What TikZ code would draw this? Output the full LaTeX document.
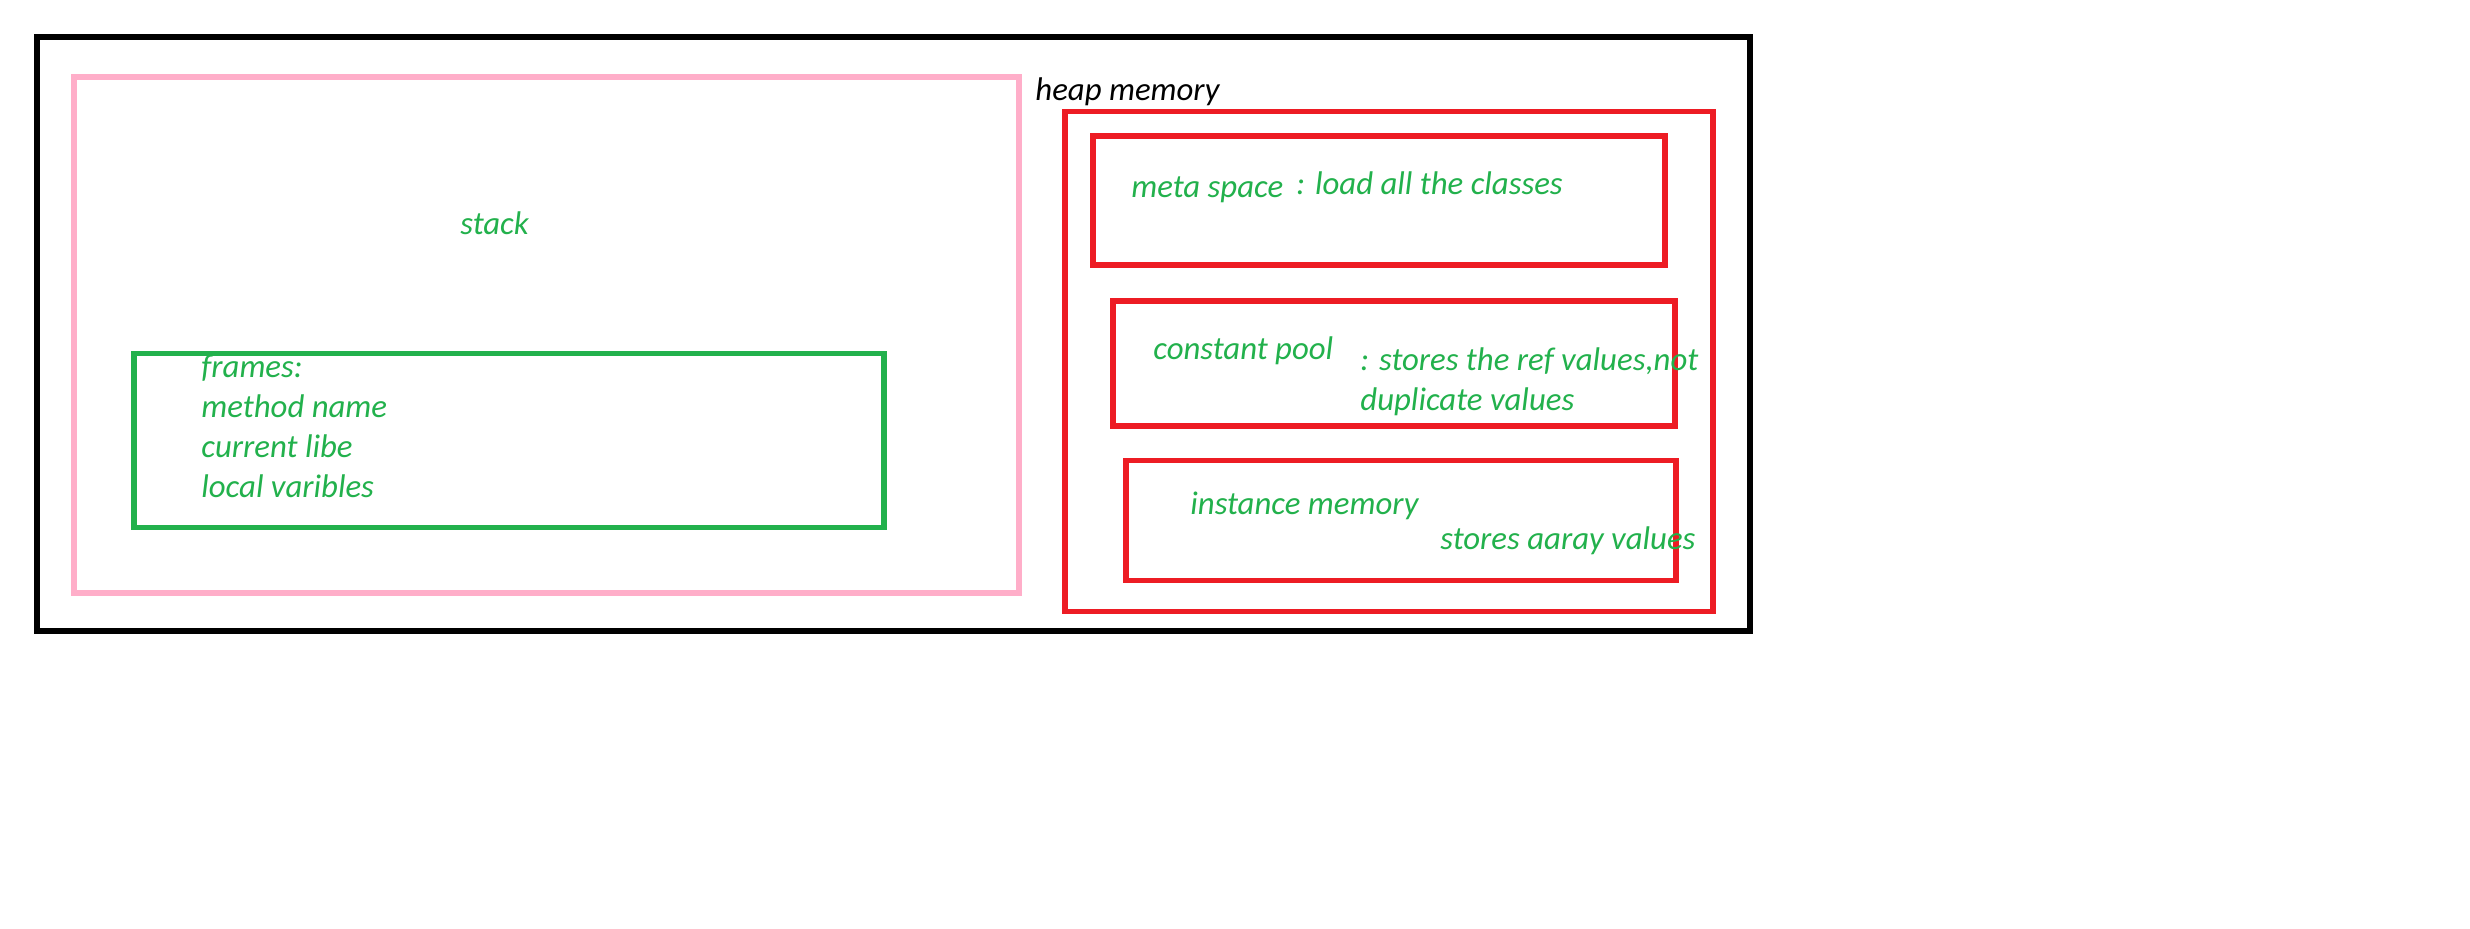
\documentclass[tikz,border=0pt]{standalone}
\usepackage{fontspec}
\setmainfont{Carlito}
\definecolor{pgreen}{HTML}{22B14C}
\definecolor{pred}{HTML}{ED1C24}
\definecolor{ppink}{HTML}{FFAEC9}
\begin{document}
\begin{tikzpicture}[x=0.5pt,y=-0.5pt,
  box/.style={draw, rectangle, line width=2.7pt, inner sep=0pt, fill=none},
  lbl/.style={anchor=base west, inner sep=0pt, font=\fontsize{16.4}{20}\selectfont\itshape, text=pgreen},
  blbl/.style={lbl, text=black}]
\useasboundingbox[fill=white] (0,0) rectangle (2470,929);
% boxes
\node[box, draw=black, minimum width=856.5pt, minimum height=297pt] (outer) at (893.5,334) {};
\node[box, draw=ppink, minimum width=472.5pt, minimum height=258pt] (stackbox) at (546.5,335) {};
\node[box, draw=pgreen, minimum width=375pt, minimum height=87pt] (framebox) at (509,440.5) {};
\node[box, draw=pred, minimum width=324pt, minimum height=250pt] (heapbox) at (1389,361.5) {};
\node[box, draw=pred, minimum width=286pt, minimum height=64.5pt] (metabox) at (1379,200.5) {};
\node[box, draw=pred, minimum width=281pt, minimum height=62.5pt] (constbox) at (1394,363.5) {};
\node[box, draw=pred, minimum width=275pt, minimum height=60pt] (instbox) at (1401,520.5) {};
% labels
\node[blbl] (heaplbl) at (1035,101) {heap memory};
\node[lbl] (stacklbl) at (460,235) {stack};
\node[lbl] (f1) at (201,378) {frames:};
\node[lbl] (f2) at (201,418) {method name};
\node[lbl] (f3) at (201,458) {current libe};
\node[lbl] (f4) at (201,498) {local varibles};
\node[lbl] (metalbl) at (1131,198) {meta space};
\node[lbl] (metadesc) at (1296,195) {: load all the classes};
\node[lbl] (constlbl) at (1153,360) {constant pool};
\node[lbl] (constdesc1) at (1360,371) {: stores the ref values,not};
\node[lbl] (constdesc2) at (1360,410.5) {duplicate values};
\node[lbl] (instlbl) at (1190,515) {instance memory};
\node[lbl] (instdesc) at (1440,550) {stores aaray values};
\end{tikzpicture}
\end{document}
